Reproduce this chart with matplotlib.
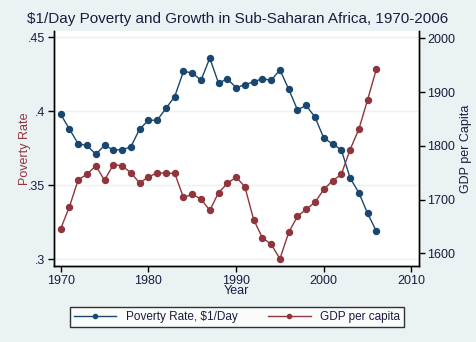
import matplotlib.pyplot as plt
from matplotlib.lines import Line2D

plt.rcParams["font.family"] = ["Liberation Sans", "DejaVu Sans"]

# Sub-Saharan Africa series, 1970-2006
years = list(range(1970, 2007))
poverty = [0.398, 0.388, 0.378, 0.377, 0.371, 0.377, 0.374, 0.374, 0.376, 0.388,
           0.394, 0.394, 0.402, 0.410, 0.427, 0.426, 0.421, 0.436, 0.419, 0.422,
           0.416, 0.418, 0.420, 0.422, 0.421, 0.428, 0.415, 0.401, 0.404, 0.396,
           0.382, 0.378, 0.374, 0.355, 0.345, 0.331, 0.319]
gdp = [1646, 1687, 1737, 1747, 1763, 1736, 1765, 1763, 1750, 1731,
       1742, 1750, 1749, 1749, 1704, 1710, 1701, 1680, 1713, 1730,
       1742, 1724, 1663, 1629, 1617, 1590, 1639, 1669, 1682, 1695,
       1719, 1735, 1747, 1793, 1831, 1886, 1943]

navy = "#1a476f"
maroon = "#90353b"
bg = "#eaf2f3"
txt = "#1c1c40"

fig = plt.figure(figsize=(4.76, 3.42), dpi=100, facecolor=bg)
ax = fig.add_axes([0.1124, 0.2213, 0.7679, 0.6881])
ax.set_facecolor("white")
ax2 = ax.twinx()

ax.plot(years, poverty, color=navy, lw=1, marker="o", ms=4.3, zorder=3)
ax2.plot(years, gdp, color=maroon, lw=1, marker="o", ms=4.3, zorder=3)

ax.set_xlim(1969.18, 2010.86)
ax.set_ylim(0.2953, 0.4543)
ax2.set_ylim(1576, 2013.6)

ax.set_xticks([1970, 1980, 1990, 2000, 2010])
ax.set_yticks([0.3, 0.35, 0.4, 0.45])
ax.set_yticklabels([".3", ".35", ".4", ".45"])
ax2.set_yticks([1600, 1700, 1800, 1900, 2000])

ax.grid(axis="y", color=bg, lw=1)
ax.set_axisbelow(True)

for a in (ax, ax2):
    a.spines["top"].set_visible(False)
    for s in ("left", "right", "bottom"):
        a.spines[s].set_linewidth(1)
    a.tick_params(length=4, width=1, labelsize=9, labelcolor=txt, pad=2)

ax.set_xlabel("Year", fontsize=9, color=txt, labelpad=-1)
ax.set_ylabel("Poverty Rate", fontsize=9, color=maroon, labelpad=-2)
ax2.set_ylabel("GDP per Capita", fontsize=9, color=txt, labelpad=3)

fig.text(0.5, 0.944, "$1/Day Poverty and Growth in Sub-Saharan Africa, 1970-2006",
         ha="center", va="center", fontsize=11, color=txt)

handles = [Line2D([], [], color=navy, lw=1, marker="o", ms=3),
           Line2D([], [], color=maroon, lw=1, marker="o", ms=3)]
leg = fig.legend(handles, ["Poverty Rate, $1/Day", "GDP per capita"],
                 loc="center", bbox_to_anchor=(0.4975, 0.0735), ncol=2,
                 fontsize=8.5, frameon=True, fancybox=False, edgecolor="black",
                 handlelength=3.6, handletextpad=0.8, columnspacing=2.6,
                 borderpad=0.35, labelcolor=txt)
leg.get_frame().set_linewidth(1)

fig.savefig("out.png", dpi=100, facecolor=bg)
